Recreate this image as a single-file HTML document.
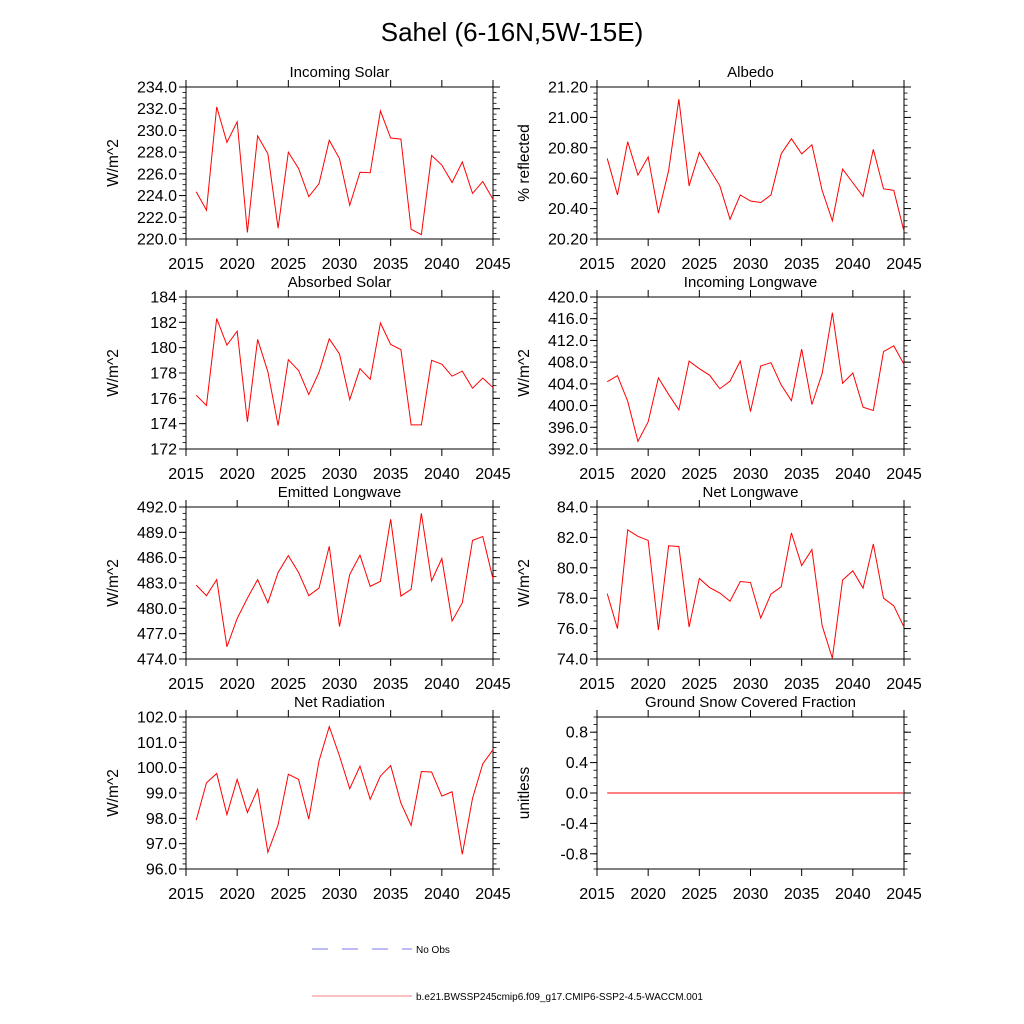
<!DOCTYPE html>
<html><head><meta charset="utf-8">
<style>
body{margin:0;background:#fff;}
svg{display:block;font-family:"Liberation Sans",sans-serif;}
</style></head>
<body>
<svg id="chart" width="1024" height="1024" viewBox="0 0 1024 1024" xmlns="http://www.w3.org/2000/svg">
<rect width="1024" height="1024" fill="#fff"/>
<text x="512" y="41" font-size="26" text-anchor="middle">Sahel (6-16N,5W-15E)</text>
<g>
<line x1="312" y1="949" x2="412" y2="949" stroke="#7777ee" stroke-width="1" stroke-dasharray="16,14"/>
<text x="416" y="953" font-size="10">No Obs</text>
<line x1="312" y1="996" x2="412" y2="996" stroke="#f08080" stroke-width="1"/>
<text x="416" y="1000" font-size="10">b.e21.BWSSP245cmip6.f09_g17.CMIP6-SSP2-4.5-WACCM.001</text>
</g>
</svg>
<script>
const years = [2016,2017,2018,2019,2020,2021,2022,2023,2024,2025,2026,2027,2028,2029,2030,2031,2032,2033,2034,2035,2036,2037,2038,2039,2040,2041,2042,2043,2044,2045];
const xTicks = [2015,2020,2025,2030,2035,2040,2045];
const incomingSolar = [224.35,222.65,232.17,228.9,230.8,220.6,229.5,227.85,221.0,228.0,226.5,223.9,225.1,229.1,227.4,223.1,226.15,226.1,231.8,229.3,229.2,220.9,220.4,227.7,226.8,225.2,227.1,224.2,225.3,223.65];
const albedo = [20.73,20.49,20.84,20.62,20.74,20.37,20.65,21.12,20.55,20.77,20.66,20.55,20.33,20.49,20.45,20.44,20.49,20.76,20.86,20.76,20.82,20.52,20.32,20.66,20.57,20.48,20.79,20.53,20.52,20.25];
const absorbedSolar = [176.25,175.44,182.3,180.2,181.3,174.15,180.65,178.1,173.85,179.05,178.2,176.3,178.05,180.7,179.5,175.9,178.35,177.5,181.95,180.25,179.85,173.9,173.9,179.0,178.7,177.75,178.15,176.8,177.6,176.85];
const incomingLW = [404.4,405.5,400.8,393.4,397.0,405.1,402.05,399.2,408.2,406.8,405.6,403.1,404.5,408.2,398.9,407.3,407.9,403.8,400.9,410.4,400.2,405.9,417.1,404.1,406.0,399.7,399.1,409.95,411.0,407.6];
const emittedLW = [482.75,481.5,483.4,475.45,478.8,481.2,483.4,480.65,484.25,486.25,484.25,481.5,482.4,487.35,477.85,484.0,486.3,482.6,483.2,490.55,481.45,482.25,491.25,483.25,485.9,478.5,480.65,488.05,488.5,483.5];
const netLW = [78.3,76.0,82.5,82.07,81.8,75.9,81.45,81.4,76.1,79.3,78.7,78.34,77.8,79.1,79.03,76.7,78.27,78.75,82.3,80.15,81.2,76.2,74.05,79.2,79.8,78.66,81.57,78.0,77.5,76.1];
const netRad = [97.93,99.4,99.77,98.15,99.54,98.23,99.15,96.66,97.75,99.74,99.54,97.97,100.27,101.62,100.46,99.17,100.06,98.75,99.67,100.08,98.6,97.72,99.85,99.83,98.88,99.05,96.58,98.79,100.15,100.71];
const snowFrac = [0,0,0,0,0,0,0,0,0,0,0,0,0,0,0,0,0,0,0,0,0,0,0,0,0,0,0,0,0,0];
const ticksSolar = [220,222,224,226,228,230,232,234];
const ticksAlbedo = [20.2,20.4,20.6,20.8,21.0,21.2];
const ticksAbs = [172,174,176,178,180,182,184];
const ticksInLW = [392,396,400,404,408,412,416,420];
const ticksEmLW = [474,477,480,483,486,489,492];
const ticksNetLW = [74,76,78,80,82,84];
const ticksNetRad = [96,97,98,99,100,101,102];
const ticksSnow = [-0.8,-0.4,0,0.4,0.8];

const NS='http://www.w3.org/2000/svg';
const svg=document.getElementById('chart');
function mk(tag,attrs,parent){const e=document.createElementNS(NS,tag);for(const k in attrs)e.setAttribute(k,attrs[k]);(parent||svg).appendChild(e);return e;}

const panels=[
 {name:'incoming-solar',title:'Incoming Solar',ylab:'W/m^2',data:incomingSolar,ticks:ticksSolar,min:220,max:234,minor:0.5,dec:1,x:186,y:87},
 {name:'albedo',title:'Albedo',ylab:'% reflected',data:albedo,ticks:ticksAlbedo,min:20.2,max:21.2,minor:0.04,dec:2,x:597,y:87},
 {name:'absorbed-solar',title:'Absorbed Solar',ylab:'W/m^2',data:absorbedSolar,ticks:ticksAbs,min:172,max:184,minor:0.5,dec:0,x:186,y:297},
 {name:'incoming-longwave',title:'Incoming Longwave',ylab:'W/m^2',data:incomingLW,ticks:ticksInLW,min:392,max:420,minor:1,dec:1,x:597,y:297},
 {name:'emitted-longwave',title:'Emitted Longwave',ylab:'W/m^2',data:emittedLW,ticks:ticksEmLW,min:474,max:492,minor:0.75,dec:1,x:186,y:507},
 {name:'net-longwave',title:'Net Longwave',ylab:'W/m^2',data:netLW,ticks:ticksNetLW,min:74,max:84,minor:0.5,dec:1,x:597,y:507},
 {name:'net-radiation',title:'Net Radiation',ylab:'W/m^2',data:netRad,ticks:ticksNetRad,min:96,max:102,minor:0.2,dec:1,x:186,y:717},
 {name:'ground-snow-fraction',title:'Ground Snow Covered Fraction',ylab:'unitless',data:snowFrac,ticks:ticksSnow,min:-1,max:1,minor:0.1,dec:1,x:597,y:717},
];
const W=307,H=152;
panels.forEach(p=>{
 const g=mk('g',{});
 
 
 const sx=v=>p.x+(v-2015)/30*W;
 const sy=v=>p.y+H-(v-p.min)/(p.max-p.min)*H;
 const n=Math.round((p.max-p.min)/p.minor);
 for(let i=0;i<=n;i++){const yy=sy(p.min+i*p.minor);
  mk('line',{x1:p.x-3.5,x2:p.x,y1:yy,y2:yy,stroke:'#000','stroke-width':0.8},g);
  mk('line',{x1:p.x+W,x2:p.x+W+3.5,y1:yy,y2:yy,stroke:'#000','stroke-width':0.8},g);}
 p.ticks.forEach(t=>{const yy=sy(t);
  mk('line',{x1:p.x-7,x2:p.x,y1:yy,y2:yy,stroke:'#000','stroke-width':1},g);
  mk('line',{x1:p.x+W,x2:p.x+W+7,y1:yy,y2:yy,stroke:'#000','stroke-width':1},g);
  const tl=mk('text',{x:p.x-9,y:yy+5.5,'font-size':16,'text-anchor':'end'},g);
  
  
  tl.textContent=t.toFixed(p.dec);});
 xTicks.forEach(t=>{const xx=sx(t);
  mk('line',{x1:xx,x2:xx,y1:p.y+H,y2:p.y+H+7,stroke:'#000','stroke-width':1},g);
  mk('line',{x1:xx,x2:xx,y1:p.y-7,y2:p.y,stroke:'#000','stroke-width':1},g);
  const tl=mk('text',{x:xx,y:p.y+H+30,'font-size':16,'text-anchor':'middle'},g);
  
  
  tl.textContent=t;});
 const box=mk('rect',{x:p.x,y:p.y,width:W,height:H,fill:'none',stroke:'#000','stroke-width':1},g);
 
 
 const tt=mk('text',{x:p.x+W/2,y:p.y-10,'font-size':15,'text-anchor':'middle'},g);
 
 
 tt.textContent=p.title;
 const yl=mk('text',{x:0,y:0,'font-size':15.5,'text-anchor':'middle',transform:`translate(${p.x-68},${p.y+H/2}) rotate(-90)`},g);
 
 
 yl.textContent=p.ylab;
 const pts=years.map((yr,i)=>sx(yr).toFixed(2)+','+sy(p.data[i]).toFixed(2)).join(' ');
 const ln=mk('polyline',{points:pts,fill:'none',stroke:'#ff0000','stroke-width':1},g);
 
 
});
</script>
</body></html>
